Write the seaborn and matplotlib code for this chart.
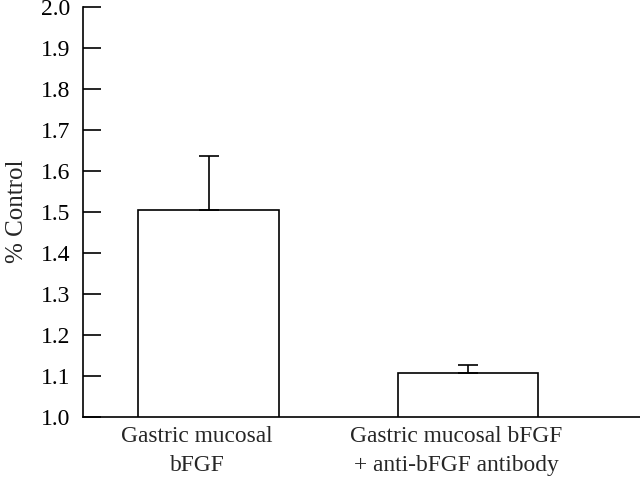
import numpy as np
import pandas as pd
import matplotlib
matplotlib.use('Agg')
import matplotlib.pyplot as plt
import matplotlib.transforms as mtransforms
import seaborn as sns

# values
groups = ['Gastric mucosal\nbFGF', 'Gastric mucosal bFGF\n+ anti-bFGF antibody']
means = [1.505, 1.106]
errors = [0.132, 0.020]
yticks = np.round(np.arange(1.0, 2.01, 0.1), 1)

df = pd.DataFrame({'group': groups, 'value': means})

sns.set_style('ticks')
plt.rcParams['font.family'] = ['Liberation Serif', 'DejaVu Serif']

fig = plt.figure(figsize=(6.4, 4.78), dpi=100)
ax = fig.add_axes([83/640, 1 - 416.7/478, 1 - 83/640, (416.7 - 6.7)/478])

sns.barplot(data=df, x='group', y='value', color='white', edgecolor='black',
            linewidth=1.2, width=0.544, errorbar=None, ax=ax)

# upward-only error bars
ax.errorbar(range(len(means)), means, yerr=[[0]*len(errors), errors],
            fmt='none', ecolor='black', elinewidth=1.2, capsize=7, capthick=1.2)

ax.set_ylim(1.0, 2.0)
ax.set_xlim(-0.486, 1.664)
ax.set_yticks(yticks)
ax.set_yticklabels([f'{t:.1f}' for t in yticks], fontsize=17)
ax.tick_params(axis='y', direction='in', length=13, width=1.2, pad=9, colors='black')
ax.tick_params(axis='x', length=0, pad=7, labelsize=16.9)
ax.set_xlabel('')
ax.set_ylabel('% Control', fontsize=18, labelpad=9)

for s in ['top', 'right']:
    ax.spines[s].set_visible(False)
for s in ['left', 'bottom']:
    ax.spines[s].set_linewidth(1.2)
    ax.spines[s].set_color('black')

# labels sit a little left of the bar centres in the original
shift = mtransforms.ScaledTranslation(-12/100, 0, fig.dpi_scale_trans)
for lbl in ax.get_xticklabels():
    lbl.set_ha('center')
    lbl.set_multialignment('center')
    lbl.set_linespacing(1.45)
    lbl.set_transform(lbl.get_transform() + shift)

fig.savefig('out.png', dpi=100)
